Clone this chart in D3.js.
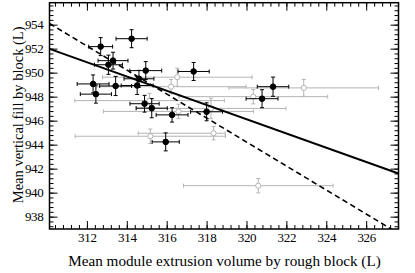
<!DOCTYPE html>
<html>
<head>
<meta charset="utf-8">
<script src="https://cdn.jsdelivr.net/npm/d3@7"></script>
<style>
  body { margin: 0; background: #fff; }
  text { font-family: "Liberation Serif", "DejaVu Serif", serif; }
</style>
</head>
<body>
<div id="chart"></div>
<script>
// chart size
var svgWidth = 415;
var svgHeight = 273;

var margin = { top: 2.7, right: 16.5, bottom: 44, left: 49.5 };
var width = svgWidth - margin.left - margin.right;
var height = svgHeight - margin.top - margin.bottom;

// black points (full sample)
var blackX    = [312.69, 314.24, 313.31, 313.08, 314.95, 312.31, 313.44, 314.52, 314.61, 312.45, 314.89, 315.25, 316.27, 315.95, 318.00, 317.35, 321.33, 320.78];
var blackY    = [952.17, 952.83, 951.00, 950.66, 950.17, 949.06, 948.89, 948.93, 949.49, 948.21, 947.41, 947.04, 946.48, 944.23, 946.74, 950.10, 948.83, 947.83];
var blackXErr = [0.60, 0.78, 0.75, 0.70, 0.80, 0.80, 0.80, 0.80, 0.75, 0.78, 0.73, 0.78, 0.80, 0.68, 0.80, 0.78, 0.79, 0.80];
var blackYErr = [0.75, 0.75, 0.70, 0.80, 0.75, 0.75, 0.80, 0.75, 0.70, 0.75, 0.70, 0.80, 0.60, 0.75, 0.75, 0.75, 0.80, 0.75];

// grey open points
var greyX     = [316.53, 316.22, 315.14, 316.59, 315.18, 320.34, 322.87, 318.35, 320.59, 318.22];
var greyY     = [949.62, 948.83, 947.67, 946.77, 944.70, 948.00, 948.73, 944.95, 940.58, 947.02];
var greyXLo   = [3.75, 3.76, 3.75, 3.76, 3.77, 3.73, 3.75, 3.78, 3.75, 3.76];
var greyXHi   = [3.75, 3.76, 3.75, 3.76, 3.77, 3.73, 3.75, 0.58, 3.75, 3.76];
var greyYErr  = [0.75, 0.60, 0.60, 0.60, 0.60, 0.60, 0.70, 0.55, 0.60, 0.85];

// fitted lines: slope, intercept
var solidFit  = [-0.594, 1136.20];
var dashedFit = [-1.0, 1264.22];

// axis ticks
var xMajor = d3.range(312, 327, 2);
var yMajor = d3.range(938, 955, 2);
var xMinor = d3.range(0, 44).map(d => +(310.4 + d * 0.4).toFixed(1));
var yMinor = d3.range(0, 47).map(d => +(937.2 + d * 0.4).toFixed(1));

var svg = d3.select("#chart")
    .append("svg")
    .attr("width", svgWidth)
    .attr("height", svgHeight);

var chartGroup = svg.append("g")
    .attr("transform", `translate(${margin.left}, ${margin.top})`);

var xScale = d3.scaleLinear().domain([310.125, 327.62]).range([0, width]);
var yScale = d3.scaleLinear().domain([936.97, 955.83]).range([height, 0]);

chartGroup.append("clipPath").attr("id", "clip")
    .append("rect").attr("width", width).attr("height", height);

var plot = chartGroup.append("g").attr("clip-path", "url(#clip)");

// error bars + markers
function drawPoints(xs, ys, xlo, xhi, yerr, color, open) {
    var data = xs.map((x, i) => ({ x: x, y: ys[i], xl: xlo[i], xh: xhi[i], ye: yerr[i] }));
    var g = plot.append("g").attr("stroke", color).attr("stroke-width", 1).attr("fill", "none");
    var cap = 2;
    data.forEach(function (d) {
        var cx = xScale(d.x), cy = yScale(d.y);
        var x0 = xScale(d.x - d.xl), x1 = xScale(d.x + d.xh);
        var y0 = yScale(d.y - d.ye), y1 = yScale(d.y + d.ye);
        g.append("line").attr("x1", x0).attr("x2", x1).attr("y1", cy).attr("y2", cy);
        g.append("line").attr("x1", cx).attr("x2", cx).attr("y1", y0).attr("y2", y1);
        g.append("line").attr("x1", x0).attr("x2", x0).attr("y1", cy - cap).attr("y2", cy + cap);
        g.append("line").attr("x1", x1).attr("x2", x1).attr("y1", cy - cap).attr("y2", cy + cap);
        g.append("line").attr("x1", cx - cap).attr("x2", cx + cap).attr("y1", y0).attr("y2", y0);
        g.append("line").attr("x1", cx - cap).attr("x2", cx + cap).attr("y1", y1).attr("y2", y1);
    });
    g.selectAll("circle").data(data).enter()
        .append("circle")
        .attr("cx", d => xScale(d.x))
        .attr("cy", d => yScale(d.y))
        .attr("r", open ? 2.6 : 2.8)
        .attr("fill", open ? "#fff" : color);
}

drawPoints(greyX, greyY, greyXLo, greyXHi, greyYErr, "#b4b4b4", true);
drawPoints(blackX, blackY, blackXErr, blackXErr, blackYErr, "#000", false);

// fit lines
function fitLine(fit, dash, w) {
    var xd = xScale.domain();
    plot.append("line")
        .attr("x1", xScale(xd[0])).attr("y1", yScale(fit[0] * xd[0] + fit[1]))
        .attr("x2", xScale(xd[1])).attr("y2", yScale(fit[0] * xd[1] + fit[1]))
        .attr("stroke", "#000")
        .attr("stroke-width", w)
        .attr("stroke-dasharray", dash);
}
fitLine(solidFit, null, 2);
fitLine(dashedFit, "5.5,3.5", 1.6);

// axes: major ticks inward, minor ticks inward
function axisSet(axisFn, scale, major, minor, transform, pad) {
    var gMinor = chartGroup.append("g")
        .attr("transform", transform)
        .call(axisFn(scale).tickValues(minor).tickSize(-4).tickFormat(""));
    var gMajor = chartGroup.append("g")
        .attr("transform", transform)
        .call(axisFn(scale).tickValues(major).tickSize(-8).tickPadding(pad || 0)
            .tickFormat(pad ? d3.format("d") : ""));
    [gMinor, gMajor].forEach(function (g) {
        g.select(".domain").remove();
        g.selectAll("line").attr("stroke", "#000").attr("stroke-width", 1);
    });
    gMajor.selectAll("text")
        .attr("fill", "#000")
        .style("font-size", "13px")
        .style("letter-spacing", "-0.3px")
        .style("font-family", '"Liberation Serif", serif');
    return gMajor;
}

axisSet(d3.axisBottom, xScale, xMajor, xMinor, `translate(0, ${height})`, 4);
axisSet(d3.axisTop, xScale, xMajor, xMinor, "translate(0, 0)", 0);
axisSet(d3.axisLeft, yScale, yMajor, yMinor, "translate(0, 0)", 6);
axisSet(d3.axisRight, yScale, yMajor, yMinor, `translate(${width}, 0)`, 0);

// frame
chartGroup.append("rect")
    .attr("width", width)
    .attr("height", height)
    .attr("fill", "none")
    .attr("stroke", "#000")
    .attr("stroke-width", 1.5);

// Axis labels
chartGroup.append("text")
    .attr("transform", "rotate(-90)")
    .attr("x", -height / 2 + 1)
    .attr("y", -margin.left + 22.5)
    .attr("text-anchor", "middle")
    .style("font-size", "14.5px")
    .text("Mean vertical fill by block (L)");

chartGroup.append("text")
    .attr("x", width / 2 + 0.5)
    .attr("y", height + 37)
    .attr("text-anchor", "middle")
    .style("font-size", "15.2px")
    .text("Mean module extrusion volume by rough block (L)");
</script>
</body>
</html>
